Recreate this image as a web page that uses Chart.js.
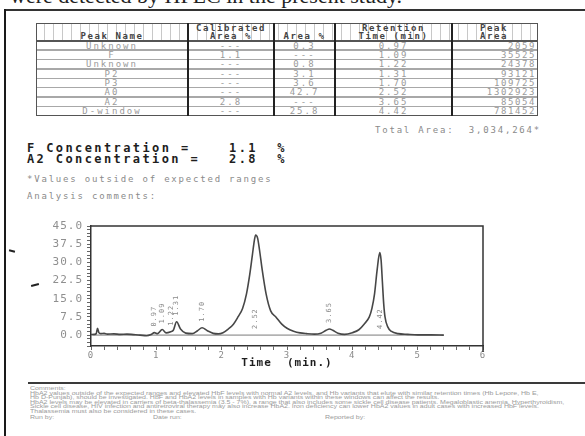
<!DOCTYPE html>
<html>
<head>
<meta charset="utf-8">
<script src="https://cdn.jsdelivr.net/npm/chart.js@4/dist/chart.umd.min.js"></script>
<style>
  html, body { margin: 0; padding: 0; }
  body { width: 585px; height: 436px; overflow: hidden; background: #fff; position: relative; font-family: "DejaVu Sans Mono", "Liberation Mono", monospace; }
  .abs { position: absolute; white-space: pre; }
  #caption { left: 10px; top: -15px; font: 22px/22px "Liberation Serif", serif; color: #222; }
  .frameTop { left: 4px; top: 9px; width: 581px; height: 2px; background: #333; }
  .frameLeft { left: 4px; top: 9px; width: 2px; height: 427px; background: #1a1a1a; }
  .cell { font-size: 9px; line-height: 9px; letter-spacing: 2px; color: #9a9a9a; }
  .head { font-size: 9px; line-height: 9px; letter-spacing: 1.6px; color: #444; font-weight: bold; }
  .conc { font-size: 12px; line-height: 12px; letter-spacing: 2.4px; font-weight: bold; color: #1e1e1e; }
  .note { font-size: 9px; line-height: 9px; letter-spacing: 1.8px; color: #8a8a8a; }
  .foot { font: 5px/4.6px "Liberation Sans", sans-serif; color: #9a9a9a; transform-origin: 0 0; }
  #chartBox { position: absolute; left: 0; top: 210px; width: 500px; height: 165px; }
</style>
</head>
<body>
<div class="abs" id="caption">were detected by HPLC in the present study.</div>
<div class="abs frameTop"></div>
<div class="abs frameLeft"></div>
<div id="table"></div>
<div class="abs note" style="left:375px; top:126px;">Total Area:  3,034,264*</div>
<div class="abs conc" style="left:27px; top:142px;">F Concentration =    1.1  %</div>
<div class="abs conc" style="left:27px; top:153px;">A2 Concentration =   2.8  %</div>
<div class="abs note" style="left:27px; top:175px;">*Values outside of expected ranges</div>
<div class="abs note" style="left:27px; top:192px;">Analysis comments:</div>
<div class="abs" style="left:9px; top:250px; width:6px; height:2px; background:#222; transform:rotate(14deg);"></div>
<div class="abs" style="left:31px; top:284px; width:8px; height:2px; background:#222; transform:rotate(-14deg);"></div>
<div id="chartBox"><canvas id="chrom"></canvas></div>
<div class="abs" style="left:28px; top:382px; width:557px; height:2px; background:#3a3a3a;"></div>
<div class="abs foot" style="left:30px; top:386px; transform:scaleX(1.4);">Comments:
HbA2 values outside of the expected ranges and elevated HbF levels with normal A2 levels, and Hb variants that elute with similar retention times (Hb Lepore, Hb E,
Hb D-Punjab), should be investigated. HbF and HbA2 levels in samples with Hb variants within these windows can affect the results.
HbA2 levels may be elevated in carriers of beta-thalassemia (3.5 - 7%), a range that also includes some sickle cell disease patients. Megaloblastic anemia, Hyperthyroidism,
Sickle cell disease, HIV infection and antiretroviral therapy may also increase HbA2. Iron deficiency can lower HbA2 values in adult cases with increased HbF levels.
Thalassemia must also be considered in these cases.</div>
<div class="abs foot" style="left:30px; top:415px; transform:scaleX(1.4);">Run by:</div>
<div class="abs foot" style="left:153px; top:415px; transform:scaleX(1.4);">Date run:</div>
<div class="abs foot" style="left:325px; top:415px; transform:scaleX(1.4);">Reported by:</div>

<script>
// Peak report table
const peakNames      = ['Unknown', 'F', 'Unknown', 'P2', 'P3', 'A0', 'A2', 'D-window'];
const calibratedArea = ['---', '1.1', '---', '---', '---', '---', '2.8', '---'];
const areaPercent    = ['0.3', '---', '0.8', '3.1', '3.6', '42.7', '---', '25.8'];
const retentionTimes = [0.97, 1.09, 1.22, 1.31, 1.70, 2.52, 3.65, 4.42];
const peakAreas      = [2059, 35525, 24378, 93121, 109725, 1302923, 85054, 781452];

// Detector trace (time in min, signal)
const traceTime = [0.00, 0.05, 0.08, 0.10, 0.12, 0.15, 0.20, 0.25, 0.35, 0.45, 0.55, 0.65, 0.75, 0.85,
  0.92, 0.97, 1.02, 1.09, 1.15, 1.22, 1.26, 1.31, 1.37, 1.45, 1.55, 1.63, 1.70, 1.78, 1.87, 1.95,
  2.02, 2.10, 2.18, 2.25, 2.32, 2.38, 2.43, 2.47, 2.50, 2.52, 2.55, 2.58, 2.62, 2.68, 2.75, 2.83,
  2.92, 3.00, 3.10, 3.20, 3.30, 3.42, 3.52, 3.60, 3.65, 3.70, 3.78, 3.88, 4.00, 4.10, 4.18, 4.26,
  4.30, 4.34, 4.38, 4.42, 4.44, 4.46, 4.48, 4.50, 4.54, 4.60, 4.70, 4.85, 5.00, 5.20, 5.40];
const traceSignal = [0.2, 0.3, 0.6, 2.8, 1.0, 0.6, 0.7, 0.4, 0.5, 0.3, 0.4, 0.2, 0.0, -0.3,
  0.2, 1.0, 0.6, 2.3, 0.9, 1.4, 2.0, 5.5, 2.5, 0.8, 0.6, 1.8, 3.0, 1.8, 0.7, 0.5,
  1.0, 2.5, 4.5, 7.5, 11, 17, 25, 33, 39, 41.3, 40, 35, 27, 17, 10, 7.5,
  4.5, 2.8, 1.6, 0.9, 0.6, 0.4, 0.8, 2.0, 2.5, 2.0, 0.8, 0.3, 1.0, 2.2, 4.5, 7.5,
  11, 17, 27, 34, 31, 22, 13, 7.5, 3.5, 1.5, 0.6, 0.3, 0.1, 0.1, 0.0];

// Integration baseline
const baseTime = [0.02, 5.40];
const baseSignal = [0, 0];

// Axis tick values
const yMajorStep = 7.5;
const yMinorStep = 1.5;
const xMinorStep = 0.2;

// ---- build the report table ----
(function buildTable() {
  const host = document.getElementById('table');
  const edges = [36, 188, 274, 335, 452, 538];
  const top = 23, headBottom = 41, rowH = 9.375, bottom = headBottom + rowH * peakNames.length;
  const add = (cls, style, text) => {
    const d = document.createElement('div');
    d.className = 'abs ' + (cls || '');
    d.style.cssText = style;
    if (text !== undefined) d.textContent = text;
    host.appendChild(d);
    return d;
  };
  // header shading
  add('', `left:${edges[0]}px; top:${top}px; width:${edges[5]-edges[0]}px; height:${headBottom-top}px;
    background: repeating-linear-gradient(90deg, rgba(0,0,0,0) 0 8px, #c8c8c8 8px 9px);`);
  // row rules
  for (let i = 1; i < peakNames.length; i++) {
    add('', `left:${edges[0]}px; top:${headBottom + i*rowH - 1}px; width:${edges[5]-edges[0]}px; height:1.5px; background:#a8a8a8;`);
  }
  add('', `left:${edges[0]}px; top:${headBottom-1}px; width:${edges[5]-edges[0]}px; height:1.5px; background:#555;`);
  // outer frame
  add('', `left:${edges[0]}px; top:${top}px; width:${edges[5]-edges[0]-2}px; height:${bottom-top-2}px; border:1px solid #555;`);
  // column dividers
  for (let c = 1; c < 5; c++) {
    add('', `left:${edges[c]-1}px; top:${top}px; width:2px; height:${bottom-top}px; background:#222;`);
  }
  // header text
  const headers = [['', 'Peak Name'], ['Calibrated', 'Area %'], ['', 'Area %'], ['Retention', 'Time (min)'], ['Peak', 'Area']];
  headers.forEach((h, c) => {
    const w = edges[c+1] - edges[c];
    if (c === 4) {
      add('head', `left:${edges[c]+28}px; top:${top+1}px;`, h[0]);
      add('head', `left:${edges[c]+28}px; top:${top+9}px;`, h[1]);
      return;
    }
    if (h[0]) add('head', `left:${edges[c]}px; top:${top+1}px; width:${w}px; text-align:center;`, h[0]);
    add('head', `left:${edges[c]}px; top:${top+9}px; width:${w}px; text-align:center;`, h[1]);
  });
  // body rows
  peakNames.forEach((name, i) => {
    const y = headBottom + i*rowH + 0.5;
    const vals = [name, calibratedArea[i], areaPercent[i], retentionTimes[i].toFixed(2)];
    vals.forEach((v, c) => {
      add('cell', `left:${edges[c]}px; top:${y}px; width:${edges[c+1]-edges[c]}px; text-align:center;`, v);
    });
    add('cell', `left:${edges[4]}px; top:${y}px; width:${edges[5]-edges[4]-2}px; text-align:right; letter-spacing:1.6px;`, String(peakAreas[i]));
  });
})();

// ---- chromatogram ----
const isMultiple = (v, step) => Math.abs(v / step - Math.round(v / step)) < 1e-6;

const framePlugin = {
  id: 'frame',
  beforeDraw(chart) { chart.ctx.letterSpacing = '1px'; },
  afterDraw(chart) {
    const {ctx, chartArea: a, scales: {x, y}} = chart;
    ctx.save();
    ctx.strokeStyle = '#333';
    ctx.lineWidth = 1.5;
    ctx.beginPath();
    ctx.moveTo(a.left, a.top);
    ctx.lineTo(a.right, a.top);
    ctx.lineTo(a.right, a.bottom + 6);
    ctx.stroke();
    // retention time labels above each peak
    ctx.fillStyle = '#8a8a8a';
    ctx.font = '7px "DejaVu Sans Mono", monospace';
    ctx.letterSpacing = '1px';
    ctx.textAlign = 'left';
    ctx.textBaseline = 'middle';
    retentionTimes.forEach(t => {
      let apex = 0;
      traceTime.forEach((tt, k) => { if (Math.abs(tt - t) < 0.035) apex = Math.max(apex, traceSignal[k]); });
      const start = apex < 10 ? apex + 2.5 : 2.5;
      ctx.save();
      ctx.translate(x.getPixelForValue(t), y.getPixelForValue(start));
      ctx.rotate(-Math.PI / 2);
      ctx.fillText(t.toFixed(2), 0, 0);
      ctx.restore();
    });
    ctx.restore();
  }
};

new Chart(document.getElementById('chrom'), {
  type: 'line',
  data: {
    datasets: [
      {
        data: traceTime.map((t, i) => ({x: t, y: traceSignal[i]})),
        borderColor: '#474747',
        borderWidth: 1.6,
        pointRadius: 0,
        cubicInterpolationMode: 'monotone',
        fill: false
      },
      {
        data: baseTime.map((t, i) => ({x: t, y: baseSignal[i]})),
        borderColor: '#7a7a7a',
        borderWidth: 1,
        pointRadius: 0,
        fill: false
      }
    ]
  },
  options: {
    responsive: true,
    maintainAspectRatio: false,
    animation: false,
    events: [],
    layout: { padding: { top: 16, right: 17, left: 0, bottom: 0 } },
    plugins: { legend: { display: false }, tooltip: { enabled: false } },
    scales: {
      x: {
        type: 'linear',
        min: 0, max: 6,
        afterFit(s) { s.height = 29; },
        border: { display: true, color: '#333', width: 1.5 },
        grid: { drawOnChartArea: false, drawTicks: true, tickLength: 4, color: '#666', lineWidth: 1 },
        ticks: {
          stepSize: xMinorStep, maxTicksLimit: 100, autoSkip: false, maxRotation: 0, padding: 0,
          color: '#8a8a8a', font: { family: '"DejaVu Sans Mono", monospace', size: 9 },
          callback: v => isMultiple(v, 1) ? String(Math.round(v)) : ''
        },
        title: {
          display: true, text: 'Time  (min.)', color: '#1e1e1e',
          font: { family: '"DejaVu Sans Mono", monospace', size: 11, weight: 'bold' },
          padding: { top: 0, bottom: 5 }
        }
      },
      y: {
        type: 'linear',
        min: -4.5, max: 45,
        afterFit(s) { s.width = 91; },
        border: { display: true, color: '#333', width: 1.5 },
        grid: { drawOnChartArea: false, drawTicks: true, tickLength: 4, color: '#666', lineWidth: 1 },
        ticks: {
          stepSize: yMinorStep, maxTicksLimit: 100, autoSkip: false, padding: 4,
          color: '#8f8f8f', font: { family: '"DejaVu Sans Mono", monospace', size: 11 },
          callback: v => (v >= 0 && isMultiple(v, yMajorStep)) ? Math.abs(v).toFixed(1) : ''
        }
      }
    }
  },
  plugins: [framePlugin]
});
</script>
</body>
</html>
